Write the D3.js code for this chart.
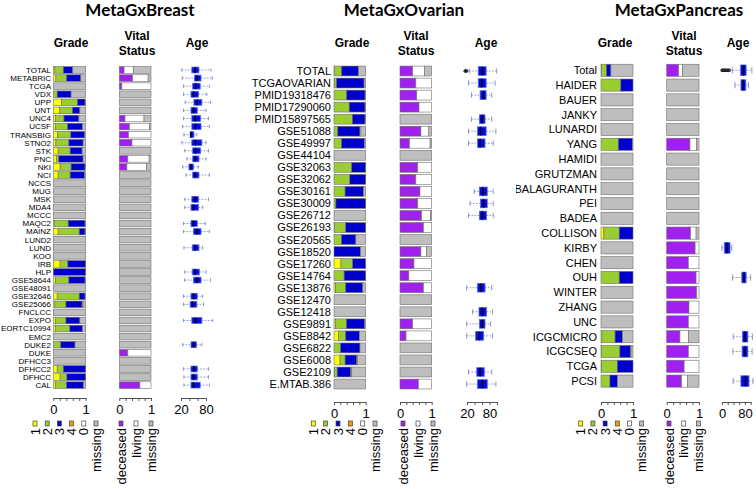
<!DOCTYPE html>
<html>
<head>
<meta charset="utf-8">
<script src="https://cdn.jsdelivr.net/npm/d3@7"></script>
<style>
  body { margin: 0; background: #fff; }
  text { font-family: "Liberation Sans", Arial, sans-serif; fill: #000; }
</style>
</head>
<body>
<script>
// ---- data (fractions per study: grade 1,2,3,4,0,missing / deceased,living,missing) ----
const NA_G = [0, 0, 0, 0, 0, 1];
const NA_V = [0, 0, 1];

const gradeKeys = ['1', '2', '3', '4', '0', 'missing'];
const vitalKeys = ['deceased', 'living', 'missing'];

const breastStudies = ['TOTAL','METABRIC','TCGA','VDX','UPP','UNT','UNC4','UCSF','TRANSBIG','STNO2','STK','PNC','NKI','NCI','NCCS','MUG','MSK','MDA4','MCCC','MAQC2','MAINZ','LUND2','LUND','KOO','IRB','HLP','GSE58644','GSE48091','GSE32646','GSE25066','FNCLCC','EXPO','EORTC10994','EMC2','DUKE2','DUKE','DFHCC3','DFHCC2','DFHCC','CAL'];
const breastGrade = [
  [.05,.26,.29,0,0,.40],[.08,.33,.44,0,0,.15],NA_G,[0,.12,.43,0,0,.45],[.26,.49,.23,0,0,.02],
  [.20,.39,.23,0,0,.18],[.07,.26,.46,0,0,.21],[.06,.38,.46,0,0,.10],[.13,.41,.43,0,0,.03],[.08,.40,.44,0,0,.08],
  [.15,.37,.37,0,0,.11],[.10,.07,.75,0,0,.08],[.21,.34,.43,0,0,.02],[.15,.37,.45,0,0,.03],NA_G,
  NA_G,NA_G,NA_G,NA_G,[.03,.43,.52,0,0,.02],
  [.15,.65,.18,0,0,.02],NA_G,NA_G,NA_G,[.21,.24,.54,0,0,.01],
  [0,0,1,0,0,0],[.07,.41,.50,0,0,.02],NA_G,[.12,.68,.18,0,0,.02],[.05,.34,.50,.03,0,.08],
  NA_G,[.07,.32,.43,0,0,.18],[.07,.44,.39,0,0,.10],NA_G,[0,.23,.44,0,0,.33],
  NA_G,NA_G,[.12,.19,.69,0,0,0],[.21,.21,.58,0,0,0],[.07,.34,.52,0,0,.07]
];
const breastVital = [
  [.15,.29,.56],[.42,.49,.09],[.08,.92,0],NA_V,NA_V,
  NA_V,[.18,.60,.22],[.32,.63,.05],[.29,.71,0],[.40,.60,0],
  NA_V,[.27,.67,.06],[.24,.62,.14],NA_V,NA_V,
  NA_V,NA_V,NA_V,NA_V,NA_V,
  NA_V,NA_V,NA_V,NA_V,NA_V,
  NA_V,NA_V,NA_V,NA_V,NA_V,
  NA_V,NA_V,NA_V,NA_V,NA_V,
  [.27,.73,0],NA_V,NA_V,NA_V,[.65,.35,0]
];
// age: [min, q1, median, q3, max]
const breastAge = [
  [22,46,54,63,92],[23,52,58,68,95],[26,48,55,66,88],[26,44,50,62,82],[30,51,59,70,91],
  [26,44,50,59,80],[26,46,54,67,86],[24,46,55,68,88],[27,42,44,51,58],[22,46,55,70,80],
  [29,48,55,67,86],[34,48,54,63,80],[24,39,44,50,62],[32,48,54,63,88],null,
  null,[29,46,54,62,86],[29,44,50,62,72],null,[26,44,50,59,78],
  [26,50,58,68,88],null,[27,47,54,63,72],null,null,
  [29,47,54,64,80],[29,50,58,68,91],null,[26,44,50,59,72],[26,42,48,58,74],
  null,[26,46,55,70,96],null,null,[24,44,50,57,70],
  null,null,[26,44,51,59,86],[27,44,50,59,86],[27,44,50,66,88]
];
const breastOutliers = [];

const ovarianStudies = ['TOTAL','TCGAOVARIAN','PMID19318476','PMID17290060','PMID15897565','GSE51088','GSE49997','GSE44104','GSE32063','GSE32062','GSE30161','GSE30009','GSE26712','GSE26193','GSE20565','GSE18520','GSE17260','GSE14764','GSE13876','GSE12470','GSE12418','GSE9891','GSE8842','GSE6822','GSE6008','GSE2109','E.MTAB.386'];
const ovarianGrade = [
  [.01,.23,.53,0,0,.23],[.02,.06,.87,0,0,.05],[0,.40,.58,0,0,.02],[0,.48,.50,0,0,.02],[0,.58,.40,0,0,.02],
  [0,.12,.70,0,.03,.15],[0,.24,.72,0,0,.04],NA_G,[0,.56,.44,0,0,0],[0,.50,.50,0,0,0],
  [0,.35,.58,0,0,.07],[0,.06,.94,0,0,0],NA_G,[.02,.35,.63,0,0,0],[0,.24,.45,0,0,.31],
  [0,0,.84,0,0,.16],[.22,.37,.41,0,0,0],[0,.32,.68,0,0,0],[.05,.32,.54,0,0,.09],NA_G,
  NA_G,[.04,.35,.58,0,0,.03],[.14,.23,.43,0,0,.20],[0,.21,.61,0,0,.18],[.19,.16,.37,.02,0,.26],
  [.02,.08,.43,.03,0,.44],NA_G
];
const ovarianVital = [
  [.40,.37,.23],[.50,.50,0],[.53,.47,0],[.60,.40,0],NA_V,
  [.66,.25,.09],[.30,.65,.05],NA_V,[.56,.44,0],[.50,.50,0],
  [.63,.37,0],[.56,.44,0],[.68,.28,.04],[.74,.26,0],NA_V,
  [.66,.18,.16],[.44,.56,0],[.28,.72,0],[.74,.26,0],NA_V,
  NA_V,[.40,.60,0],[.19,.81,0],NA_V,NA_V,
  NA_V,[.58,.42,0]
];
const ovarianAge = [
  [26,50,61,71,99],[24,50,59,71,95],[32,55,64,71,86],null,[32,53,61,68,86],
  [24,48,56,71,97],[24,48,55,68,90],null,null,null,
  [39,53,62,74,90],[28,56,64,74,90],[24,53,61,72,90],null,null,
  null,null,null,[19,48,57,68,86],null,
  [35,52,61,72,88],[19,53,61,68,83],[19,43,53,64,88],null,null,
  [24,46,55,66,86],[19,48,61,74,97]
];
const ovarianOutliers = [[15, 17, 19]];

const pancreasStudies = ['Total','HAIDER','BAUER','JANKY','LUNARDI','YANG','HAMIDI','GRUTZMAN','BALAGURANTH','PEI','BADEA','COLLISON','KIRBY','CHEN','OUH','WINTER','ZHANG','UNC','ICGCMICRO','ICGCSEQ','TCGA','PCSI'];
const pancreasGrade = [
  [.02,.15,.14,0,0,.69],[0,.62,.38,0,0,0],NA_G,NA_G,NA_G,
  [0,.54,.44,0,0,.02],NA_G,NA_G,NA_G,NA_G,
  NA_G,[.09,.48,.43,0,0,0],NA_G,NA_G,[0,.57,.43,0,0,0],
  NA_G,NA_G,NA_G,[.03,.41,.23,0,0,.33],[.01,.58,.33,.02,0,.06],
  [.02,.49,.49,0,0,0],[0,.28,.23,0,0,.49]
];
const pancreasVital = [
  [.37,.12,.51],NA_V,NA_V,NA_V,NA_V,
  [.72,.21,.07],NA_V,NA_V,NA_V,NA_V,
  NA_V,[.74,.17,.09],[.88,.12,0],[.67,.33,0],[.91,.09,0],
  [.93,.07,0],[.69,.31,0],[.67,.33,0],[.41,.26,.33],[.67,.33,0],
  [.54,.46,0],[.46,.18,.36]
];
const pancreasAge = [
  [36,65,75,84,104],[45,66,74,83,92],null,null,null,
  null,null,null,null,null,
  null,null,[0,8,17,28,34],null,[37,69,77,84,100],
  null,null,null,[39,71,80,90,106],[38,70,80,90,105],
  null,[39,66,82,94,108]
];
const pancreasOutliers = [[0, 3, 6, 10, 14, 18, 22, 26]];

// ---- styles ----
const gradeColors = ['#ffff00', '#9acd32', '#0000cd', '#ff9900', '#ffffff', '#bebebe'];
const vitalColors = ['#a020f0', '#ffffff', '#bebebe'];

const W = 756, H = 489;
const svg = d3.select('body').append('svg').attr('width', W).attr('height', H);
svg.append('rect').attr('width', W).attr('height', H).attr('fill', '#fff');

function stacked(g, rows, colors, x, yPos, h) {
  const segs = rows.flatMap((r, i) => {
    let c = 0;
    return r.map((v, j) => { const s = {i, j, x0: c, x1: c + v}; c += v; return s; })
            .filter(s => s.x1 > s.x0);
  });
  g.selectAll(null).data(segs).enter().append('rect')
    .attr('x', d => x(d.x0)).attr('width', d => x(d.x1) - x(d.x0))
    .attr('y', d => yPos(d.i) - h / 2).attr('height', h)
    .attr('fill', d => colors[d.j]).attr('stroke', '#6f6f6f').attr('stroke-width', 0.6);
}

function axis(g, scale, ticks, labels, y) {
  const ax = g.append('g').attr('transform', `translate(0,${y})`)
    .call(d3.axisBottom(scale).tickValues(ticks).tickSize(3).tickSizeOuter(0).tickPadding(3.5)
      .tickFormat(d => labels.includes(d) ? d : ''));
  ax.select('.domain').attr('stroke', '#555');
  ax.selectAll('.tick line').attr('stroke', '#555');
  ax.selectAll('text').attr('font-size', 13).attr('font-family', '"Liberation Sans", Arial, sans-serif').attr('fill', '#000');
}

function legend(g, keys, colors, x0, dx) {
  keys.forEach((k, i) => {
    const x = x0 + i * dx;
    g.append('rect').attr('x', x - 2).attr('y', 421).attr('width', 4).attr('height', 5)
      .attr('fill', colors[i]).attr('stroke', '#444').attr('stroke-width', 0.7);
    g.append('text').attr('transform', `translate(${x},428) rotate(-90)`)
      .attr('text-anchor', 'end').attr('dy', '0.35em').attr('font-size', 13).text(k);
  });
}

function drawPanel(title, studies, grade, vital, age, outliers, L) {
  const g = svg.append('g');
  const yPos = i => L.y0 + i * L.step;
  const barH = L.step * 0.82, boxH = L.step * 0.72;
  const gx = d3.scaleLinear().domain([0, 1]).range(L.grade);
  const vx = d3.scaleLinear().domain([0, 1]).range(L.vital);
  const ax = d3.scaleLinear().domain(L.ageDomain).range(L.ageRange);

  g.append('text').attr('x', L.titleX).attr('y', 15.5).attr('text-anchor', 'middle')
    .style('font-family', 'Lato, "Open Sans", sans-serif').attr('font-weight', 700).attr('font-size', 17).text(title);
  const hd = (x, y, t) => g.append('text').attr('x', x).attr('y', y).attr('text-anchor', 'middle')
    .attr('font-weight', 700).attr('font-size', 12).text(t);
  hd(L.gradeHX, 46.5, 'Grade'); hd(L.vitalHX, 40.3, 'Vital'); hd(L.vitalHX, 55.3, 'Status'); hd(L.ageHX, 46.5, 'Age');

  const lab = g.append('g');
  if (L.clipLeft) {
    const id = 'clip' + Math.round(L.clipLeft);
    svg.append('clipPath').attr('id', id).append('rect').attr('x', L.clipLeft).attr('y', 0).attr('width', W).attr('height', H);
    lab.attr('clip-path', `url(#${id})`);
  }
  lab.selectAll(null).data(studies).enter().append('text')
    .attr('x', L.labelX).attr('y', (d, i) => yPos(i)).attr('dy', '0.36em')
    .attr('text-anchor', 'end').attr('font-size', L.labelSize).text(d => d);

  stacked(g, grade, gradeColors, gx, yPos, barH);
  stacked(g, vital, vitalColors, vx, yPos, barH);

  // age box plots
  const bp = age.map((a, i) => a && {i, a}).filter(Boolean);
  const wc = '#6f7fc8';
  bp.forEach(({i, a}) => {
    const y = yPos(i);
    g.append('line').attr('x1', ax(a[0])).attr('x2', ax(a[1])).attr('y1', y).attr('y2', y)
      .attr('stroke', wc).attr('stroke-width', 0.8).attr('stroke-dasharray', '1.6,1.4');
    g.append('line').attr('x1', ax(a[3])).attr('x2', ax(a[4])).attr('y1', y).attr('y2', y)
      .attr('stroke', wc).attr('stroke-width', 0.8).attr('stroke-dasharray', '1.6,1.4');
    [a[0], a[4]].forEach(v => g.append('line').attr('x1', ax(v)).attr('x2', ax(v))
      .attr('y1', y - boxH * 0.3).attr('y2', y + boxH * 0.3).attr('stroke', wc).attr('stroke-width', 0.8));
    g.append('rect').attr('x', ax(a[1])).attr('width', ax(a[3]) - ax(a[1]))
      .attr('y', y - boxH / 2).attr('height', boxH)
      .attr('fill', '#0a0ad0').attr('stroke', '#4d6cff').attr('stroke-width', 0.8);
    g.append('line').attr('x1', ax(a[2])).attr('x2', ax(a[2])).attr('y1', y - boxH / 2).attr('y2', y + boxH / 2)
      .attr('stroke', '#00003a').attr('stroke-width', 1.6);
  });
  outliers.forEach((o, i) => o.forEach(v => g.append('circle').attr('cx', ax(v)).attr('cy', yPos(i))
    .attr('r', 1.3).attr('fill', 'none').attr('stroke', '#111').attr('stroke-width', 0.9)));

  axis(g, gx, [0, .2, .4, .6, .8, 1], [0, 1], L.axisY);
  axis(g, vx, [0, .2, .4, .6, .8, 1], [0, 1], L.axisY);
  axis(g, ax, L.ageTicks, L.ageLabels, L.axisY);

  legend(g, gradeKeys, gradeColors, L.legG, L.legGdx);
  legend(g, vitalKeys, vitalColors, L.legV, L.legVdx);
}

drawPanel('MetaGxBreast', breastStudies, breastGrade, breastVital, breastAge, breastOutliers, {
  y0: 70, step: 8.08, labelX: 51, labelSize: 8, grade: [53.3, 85.7], vital: [119.3, 151],
  ageDomain: [20, 80], ageRange: [181, 206], ageTicks: [20, 40, 60, 80], ageLabels: [20, 80],
  axisY: 398, titleX: 140, gradeHX: 71, vitalHX: 137, ageHX: 197,
  legG: 35, legGdx: 12.2, legV: 121, legVdx: 15
});
drawPanel('MetaGxOvarian', ovarianStudies, ovarianGrade, ovarianVital, ovarianAge, ovarianOutliers, {
  y0: 71, step: 12.04, labelX: 331, labelSize: 11, grade: [334, 365.7], vital: [400, 431.7],
  ageDomain: [20, 100], ageRange: [467, 497], ageTicks: [20, 40, 60, 80, 100], ageLabels: [20, 80],
  axisY: 402, titleX: 404, gradeHX: 352, vitalHX: 416, ageHX: 486,
  legG: 313.3, legGdx: 12.35, legV: 403, legVdx: 15
});
drawPanel('MetaGxPancreas', pancreasStudies, pancreasGrade, pancreasVital, pancreasAge, pancreasOutliers, {
  y0: 70.3, step: 14.8, labelX: 597, labelSize: 11, grade: [601, 633], vital: [666.7, 699],
  ageDomain: [0, 100], ageRange: [722, 750.7], ageTicks: [0, 20, 40, 60, 80, 100], ageLabels: [0, 80],
  axisY: 402, titleX: 679, gradeHX: 615, vitalHX: 684, ageHX: 738, clipLeft: 516,
  legG: 580.7, legGdx: 12.2, legV: 669, legVdx: 14.7
});
</script>
</body>
</html>
